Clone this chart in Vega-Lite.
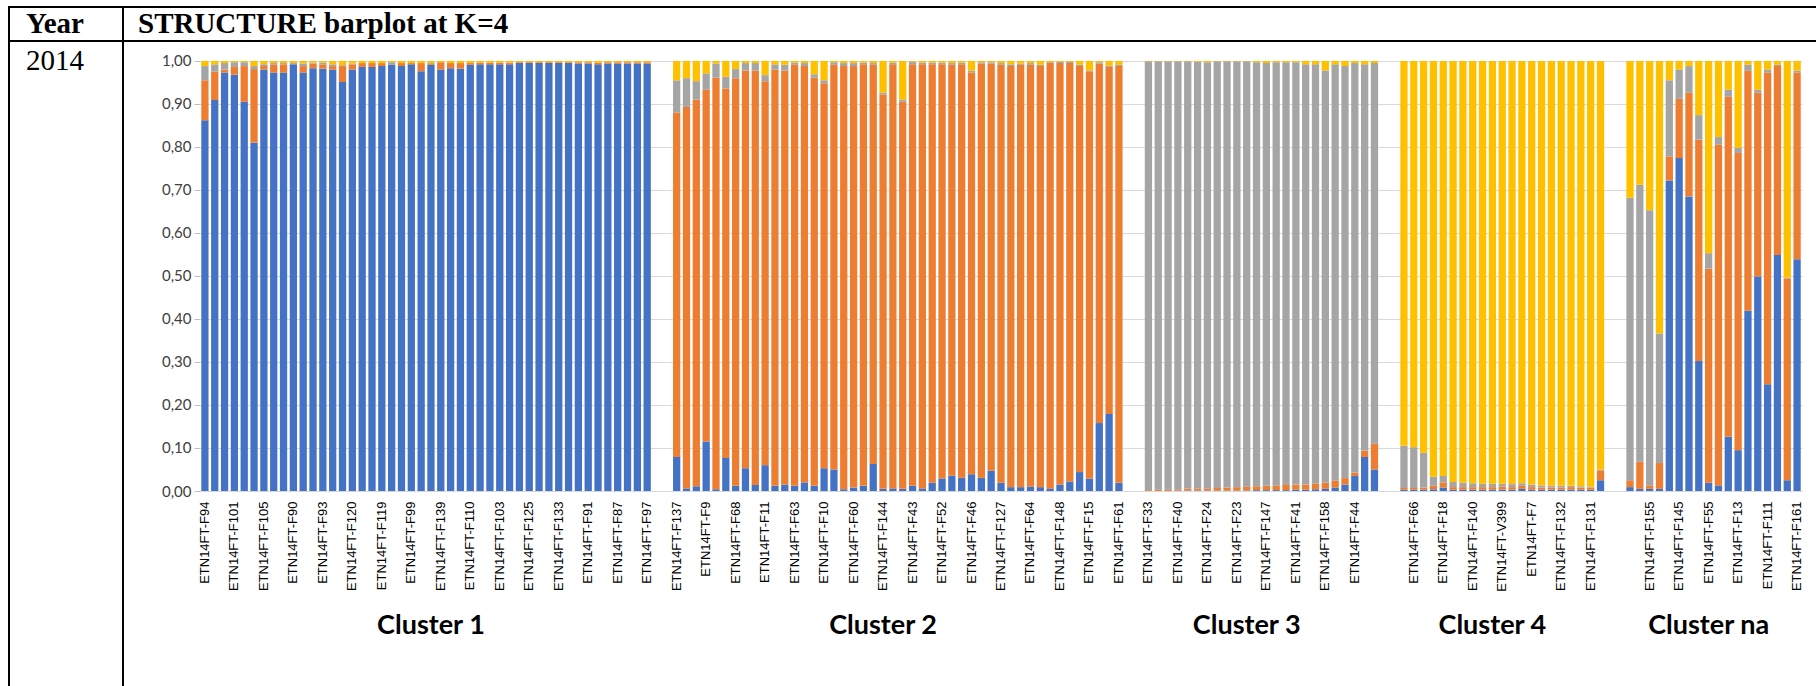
{
  "$schema": "https://vega.github.io/schema/vega-lite/v6.json",
  "padding": {"left": 7, "top": 6, "right": 0, "bottom": 0},
  "background": "white",
  "config": {"view": {"stroke": "#000000", "strokeWidth": 2}, "font": "Liberation Sans"},
  "datasets": {
    "bars": [
      {"id":"ETN14FT-F94","K1":0.862,"K2":0.093,"K3":0.033,"K4":0.012},
      {"id":"s001","K1":0.909,"K2":0.066,"K3":0.017,"K4":0.008},
      {"id":"s002","K1":0.973,"K2":0.007,"K3":0.015,"K4":0.005},
      {"id":"ETN14FT-F101","K1":0.968,"K2":0.018,"K3":0.011,"K4":0.003},
      {"id":"s004","K1":0.905,"K2":0.083,"K3":0.009,"K4":0.003},
      {"id":"s005","K1":0.810,"K2":0.171,"K3":0.007,"K4":0.012},
      {"id":"ETN14FT-F105","K1":0.980,"K2":0.008,"K3":0.004,"K4":0.008},
      {"id":"s007","K1":0.973,"K2":0.018,"K3":0.004,"K4":0.005},
      {"id":"s008","K1":0.973,"K2":0.019,"K3":0.003,"K4":0.005},
      {"id":"ETN14FT-F90","K1":0.992,"K2":0.000,"K3":0.003,"K4":0.005},
      {"id":"s010","K1":0.973,"K2":0.015,"K3":0.006,"K4":0.006},
      {"id":"s011","K1":0.983,"K2":0.011,"K3":0.002,"K4":0.004},
      {"id":"ETN14FT-F93","K1":0.982,"K2":0.010,"K3":0.004,"K4":0.004},
      {"id":"s013","K1":0.980,"K2":0.008,"K3":0.004,"K4":0.008},
      {"id":"s014","K1":0.951,"K2":0.037,"K3":0.002,"K4":0.010},
      {"id":"ETN14FT-F120","K1":0.980,"K2":0.012,"K3":0.002,"K4":0.006},
      {"id":"s016","K1":0.986,"K2":0.009,"K3":0.000,"K4":0.005},
      {"id":"s017","K1":0.986,"K2":0.009,"K3":0.000,"K4":0.005},
      {"id":"ETN14FT-F119","K1":0.988,"K2":0.007,"K3":0.000,"K4":0.005},
      {"id":"s019","K1":0.991,"K2":0.000,"K3":0.006,"K4":0.003},
      {"id":"s020","K1":0.988,"K2":0.007,"K3":0.000,"K4":0.005},
      {"id":"ETN14FT-F99","K1":0.992,"K2":0.003,"K3":0.000,"K4":0.005},
      {"id":"s022","K1":0.976,"K2":0.019,"K3":0.000,"K4":0.005},
      {"id":"s023","K1":0.991,"K2":0.002,"K3":0.002,"K4":0.005},
      {"id":"ETN14FT-F139","K1":0.980,"K2":0.017,"K3":0.000,"K4":0.003},
      {"id":"s025","K1":0.983,"K2":0.012,"K3":0.000,"K4":0.005},
      {"id":"s026","K1":0.982,"K2":0.013,"K3":0.000,"K4":0.005},
      {"id":"ETN14FT-F110","K1":0.991,"K2":0.004,"K3":0.000,"K4":0.005},
      {"id":"s028","K1":0.992,"K2":0.004,"K3":0.000,"K4":0.004},
      {"id":"s029","K1":0.992,"K2":0.004,"K3":0.000,"K4":0.004},
      {"id":"ETN14FT-F103","K1":0.992,"K2":0.004,"K3":0.000,"K4":0.004},
      {"id":"s031","K1":0.992,"K2":0.003,"K3":0.001,"K4":0.004},
      {"id":"s032","K1":0.995,"K2":0.002,"K3":0.000,"K4":0.003},
      {"id":"ETN14FT-F125","K1":0.995,"K2":0.002,"K3":0.000,"K4":0.003},
      {"id":"s034","K1":0.995,"K2":0.002,"K3":0.000,"K4":0.003},
      {"id":"s035","K1":0.995,"K2":0.002,"K3":0.000,"K4":0.003},
      {"id":"ETN14FT-F133","K1":0.995,"K2":0.002,"K3":0.000,"K4":0.003},
      {"id":"s037","K1":0.995,"K2":0.002,"K3":0.000,"K4":0.003},
      {"id":"s038","K1":0.994,"K2":0.003,"K3":0.000,"K4":0.003},
      {"id":"ETN14FT-F91","K1":0.994,"K2":0.003,"K3":0.000,"K4":0.003},
      {"id":"s040","K1":0.992,"K2":0.004,"K3":0.000,"K4":0.004},
      {"id":"s041","K1":0.994,"K2":0.003,"K3":0.000,"K4":0.003},
      {"id":"ETN14FT-F87","K1":0.994,"K2":0.003,"K3":0.000,"K4":0.003},
      {"id":"s043","K1":0.994,"K2":0.003,"K3":0.000,"K4":0.003},
      {"id":"s044","K1":0.994,"K2":0.003,"K3":0.000,"K4":0.003},
      {"id":"ETN14FT-F97","K1":0.994,"K2":0.003,"K3":0.000,"K4":0.003},
      {"id":"gap046","K1":0,"K2":0,"K3":0,"K4":0},
      {"id":"gap047","K1":0,"K2":0,"K3":0,"K4":0},
      {"id":"ETN14FT-F137","K1":0.079,"K2":0.801,"K3":0.075,"K4":0.045},
      {"id":"s049","K1":0.006,"K2":0.887,"K3":0.067,"K4":0.040},
      {"id":"s050","K1":0.011,"K2":0.899,"K3":0.043,"K4":0.047},
      {"id":"ETN14FT-F9","K1":0.115,"K2":0.818,"K3":0.038,"K4":0.029},
      {"id":"s052","K1":0.004,"K2":0.957,"K3":0.033,"K4":0.006},
      {"id":"s053","K1":0.077,"K2":0.859,"K3":0.027,"K4":0.037},
      {"id":"ETN14FT-F68","K1":0.012,"K2":0.948,"K3":0.021,"K4":0.019},
      {"id":"s055","K1":0.053,"K2":0.925,"K3":0.017,"K4":0.005},
      {"id":"s056","K1":0.014,"K2":0.964,"K3":0.017,"K4":0.005},
      {"id":"ETN14FT-F11","K1":0.060,"K2":0.893,"K3":0.014,"K4":0.033},
      {"id":"s058","K1":0.012,"K2":0.968,"K3":0.012,"K4":0.008},
      {"id":"s059","K1":0.015,"K2":0.963,"K3":0.013,"K4":0.009},
      {"id":"ETN14FT-F63","K1":0.012,"K2":0.979,"K3":0.005,"K4":0.004},
      {"id":"s061","K1":0.020,"K2":0.968,"K3":0.007,"K4":0.005},
      {"id":"s062","K1":0.012,"K2":0.949,"K3":0.008,"K4":0.031},
      {"id":"ETN14FT-F10","K1":0.053,"K2":0.895,"K3":0.007,"K4":0.045},
      {"id":"s064","K1":0.050,"K2":0.941,"K3":0.006,"K4":0.003},
      {"id":"s065","K1":0.004,"K2":0.984,"K3":0.007,"K4":0.005},
      {"id":"ETN14FT-F60","K1":0.008,"K2":0.980,"K3":0.007,"K4":0.005},
      {"id":"s067","K1":0.012,"K2":0.980,"K3":0.004,"K4":0.004},
      {"id":"s068","K1":0.063,"K2":0.928,"K3":0.004,"K4":0.005},
      {"id":"ETN14FT-F144","K1":0.005,"K2":0.917,"K3":0.004,"K4":0.074},
      {"id":"s070","K1":0.006,"K2":0.986,"K3":0.004,"K4":0.004},
      {"id":"s071","K1":0.005,"K2":0.900,"K3":0.005,"K4":0.090},
      {"id":"ETN14FT-F43","K1":0.012,"K2":0.980,"K3":0.006,"K4":0.002},
      {"id":"s073","K1":0.006,"K2":0.986,"K3":0.004,"K4":0.004},
      {"id":"s074","K1":0.019,"K2":0.973,"K3":0.004,"K4":0.004},
      {"id":"ETN14FT-F52","K1":0.029,"K2":0.963,"K3":0.004,"K4":0.004},
      {"id":"s076","K1":0.036,"K2":0.955,"K3":0.004,"K4":0.005},
      {"id":"s077","K1":0.031,"K2":0.961,"K3":0.004,"K4":0.004},
      {"id":"ETN14FT-F46","K1":0.039,"K2":0.934,"K3":0.004,"K4":0.023},
      {"id":"s079","K1":0.031,"K2":0.963,"K3":0.003,"K4":0.003},
      {"id":"s080","K1":0.047,"K2":0.947,"K3":0.003,"K4":0.003},
      {"id":"ETN14FT-F127","K1":0.019,"K2":0.972,"K3":0.004,"K4":0.005},
      {"id":"s082","K1":0.009,"K2":0.979,"K3":0.004,"K4":0.008},
      {"id":"s083","K1":0.009,"K2":0.982,"K3":0.003,"K4":0.006},
      {"id":"ETN14FT-F64","K1":0.010,"K2":0.981,"K3":0.004,"K4":0.005},
      {"id":"s085","K1":0.009,"K2":0.979,"K3":0.003,"K4":0.009},
      {"id":"s086","K1":0.006,"K2":0.989,"K3":0.002,"K4":0.003},
      {"id":"ETN14FT-F148","K1":0.015,"K2":0.980,"K3":0.003,"K4":0.002},
      {"id":"s088","K1":0.022,"K2":0.973,"K3":0.003,"K4":0.002},
      {"id":"s089","K1":0.044,"K2":0.944,"K3":0.003,"K4":0.009},
      {"id":"ETN14FT-F15","K1":0.029,"K2":0.947,"K3":0.002,"K4":0.022},
      {"id":"s091","K1":0.158,"K2":0.836,"K3":0.003,"K4":0.003},
      {"id":"s092","K1":0.179,"K2":0.807,"K3":0.003,"K4":0.011},
      {"id":"ETN14FT-F61","K1":0.019,"K2":0.969,"K3":0.003,"K4":0.009},
      {"id":"gap094","K1":0,"K2":0,"K3":0,"K4":0},
      {"id":"gap095","K1":0,"K2":0,"K3":0,"K4":0},
      {"id":"ETN14FT-F33","K1":0.000,"K2":0.002,"K3":0.997,"K4":0.001},
      {"id":"s097","K1":0.000,"K2":0.003,"K3":0.996,"K4":0.001},
      {"id":"s098","K1":0.000,"K2":0.003,"K3":0.996,"K4":0.001},
      {"id":"ETN14FT-F40","K1":0.001,"K2":0.003,"K3":0.995,"K4":0.001},
      {"id":"s100","K1":0.001,"K2":0.004,"K3":0.994,"K4":0.001},
      {"id":"s101","K1":0.001,"K2":0.004,"K3":0.993,"K4":0.002},
      {"id":"ETN14FT-F24","K1":0.001,"K2":0.005,"K3":0.991,"K4":0.003},
      {"id":"s103","K1":0.001,"K2":0.006,"K3":0.992,"K4":0.001},
      {"id":"s104","K1":0.001,"K2":0.007,"K3":0.991,"K4":0.001},
      {"id":"ETN14FT-F23","K1":0.001,"K2":0.008,"K3":0.990,"K4":0.001},
      {"id":"s106","K1":0.001,"K2":0.009,"K3":0.989,"K4":0.001},
      {"id":"s107","K1":0.002,"K2":0.009,"K3":0.986,"K4":0.003},
      {"id":"ETN14FT-F147","K1":0.002,"K2":0.010,"K3":0.983,"K4":0.005},
      {"id":"s109","K1":0.002,"K2":0.011,"K3":0.984,"K4":0.003},
      {"id":"s110","K1":0.002,"K2":0.012,"K3":0.983,"K4":0.003},
      {"id":"ETN14FT-F41","K1":0.003,"K2":0.012,"K3":0.982,"K4":0.003},
      {"id":"s112","K1":0.003,"K2":0.012,"K3":0.977,"K4":0.008},
      {"id":"s113","K1":0.004,"K2":0.013,"K3":0.975,"K4":0.008},
      {"id":"ETN14FT-F158","K1":0.005,"K2":0.014,"K3":0.959,"K4":0.022},
      {"id":"s115","K1":0.008,"K2":0.016,"K3":0.968,"K4":0.008},
      {"id":"s116","K1":0.015,"K2":0.015,"K3":0.958,"K4":0.012},
      {"id":"ETN14FT-F44","K1":0.035,"K2":0.008,"K3":0.952,"K4":0.005},
      {"id":"s118","K1":0.079,"K2":0.015,"K3":0.898,"K4":0.008},
      {"id":"s119","K1":0.050,"K2":0.060,"K3":0.885,"K4":0.005},
      {"id":"gap120","K1":0,"K2":0,"K3":0,"K4":0},
      {"id":"gap121","K1":0,"K2":0,"K3":0,"K4":0},
      {"id":"s122","K1":0.003,"K2":0.004,"K3":0.098,"K4":0.895},
      {"id":"ETN14FT-F66","K1":0.003,"K2":0.004,"K3":0.095,"K4":0.898},
      {"id":"s124","K1":0.003,"K2":0.005,"K3":0.081,"K4":0.911},
      {"id":"s125","K1":0.004,"K2":0.008,"K3":0.021,"K4":0.967},
      {"id":"ETN14FT-F18","K1":0.008,"K2":0.012,"K3":0.015,"K4":0.965},
      {"id":"s127","K1":0.003,"K2":0.006,"K3":0.012,"K4":0.979},
      {"id":"s128","K1":0.003,"K2":0.006,"K3":0.010,"K4":0.981},
      {"id":"ETN14FT-F140","K1":0.003,"K2":0.006,"K3":0.009,"K4":0.982},
      {"id":"s130","K1":0.003,"K2":0.006,"K3":0.008,"K4":0.983},
      {"id":"s131","K1":0.003,"K2":0.006,"K3":0.008,"K4":0.983},
      {"id":"ETN14FT-V399","K1":0.003,"K2":0.007,"K3":0.007,"K4":0.983},
      {"id":"s133","K1":0.003,"K2":0.006,"K3":0.007,"K4":0.984},
      {"id":"s134","K1":0.005,"K2":0.007,"K3":0.006,"K4":0.982},
      {"id":"ETN14FT-F7","K1":0.003,"K2":0.006,"K3":0.006,"K4":0.985},
      {"id":"s136","K1":0.003,"K2":0.005,"K3":0.005,"K4":0.987},
      {"id":"s137","K1":0.003,"K2":0.005,"K3":0.004,"K4":0.988},
      {"id":"ETN14FT-F132","K1":0.003,"K2":0.005,"K3":0.004,"K4":0.988},
      {"id":"s139","K1":0.003,"K2":0.006,"K3":0.003,"K4":0.988},
      {"id":"s140","K1":0.003,"K2":0.005,"K3":0.003,"K4":0.989},
      {"id":"ETN14FT-F131","K1":0.003,"K2":0.005,"K3":0.002,"K4":0.990},
      {"id":"s142","K1":0.025,"K2":0.023,"K3":0.002,"K4":0.950},
      {"id":"gap143","K1":0,"K2":0,"K3":0,"K4":0},
      {"id":"gap144","K1":0,"K2":0,"K3":0,"K4":0},
      {"id":"s145","K1":0.009,"K2":0.016,"K3":0.657,"K4":0.318},
      {"id":"s146","K1":0.005,"K2":0.063,"K3":0.644,"K4":0.288},
      {"id":"ETN14FT-F155","K1":0.005,"K2":0.008,"K3":0.640,"K4":0.347},
      {"id":"s148","K1":0.005,"K2":0.060,"K3":0.301,"K4":0.634},
      {"id":"s149","K1":0.722,"K2":0.056,"K3":0.177,"K4":0.045},
      {"id":"ETN14FT-F145","K1":0.774,"K2":0.138,"K3":0.068,"K4":0.020},
      {"id":"s151","K1":0.685,"K2":0.241,"K3":0.062,"K4":0.012},
      {"id":"s152","K1":0.302,"K2":0.515,"K3":0.057,"K4":0.126},
      {"id":"ETN14FT-F55","K1":0.019,"K2":0.498,"K3":0.036,"K4":0.447},
      {"id":"s154","K1":0.013,"K2":0.792,"K3":0.018,"K4":0.177},
      {"id":"s155","K1":0.126,"K2":0.791,"K3":0.016,"K4":0.067},
      {"id":"ETN14FT-F13","K1":0.095,"K2":0.691,"K3":0.012,"K4":0.202},
      {"id":"s157","K1":0.419,"K2":0.558,"K3":0.014,"K4":0.009},
      {"id":"s158","K1":0.499,"K2":0.427,"K3":0.007,"K4":0.067},
      {"id":"ETN14FT-F111","K1":0.248,"K2":0.725,"K3":0.007,"K4":0.020},
      {"id":"s160","K1":0.549,"K2":0.439,"K3":0.003,"K4":0.009},
      {"id":"s161","K1":0.025,"K2":0.469,"K3":0.002,"K4":0.504},
      {"id":"ETN14FT-F161","K1":0.539,"K2":0.434,"K3":0.004,"K4":0.023}
    ],
    "clusters": [
      {"at": "s023", "name": "Cluster 1"},
      {"at": "ETN14FT-F144", "name": "Cluster 2"},
      {"at": "s106", "name": "Cluster 3"},
      {"at": "s131", "name": "Cluster 4"},
      {"at": "ETN14FT-F55", "name": "Cluster na"}
    ]
  },
  "spacing": -2,
  "bounds": "full",
  "vconcat": [
    {
      "spacing": 0,
      "bounds": "flush",
      "hconcat": [
        {
          "width": 114, "height": 34,
          "data": {"values": [{"t": "Year"}]},
          "mark": {"type": "text", "align": "left", "baseline": "middle", "font": "Liberation Serif", "fontWeight": "bold", "fontSize": 29, "dx": 17, "color": "#000000"},
          "encoding": {
            "text": {"field": "t"},
            "x": {"datum": 0, "type": "quantitative", "scale": {"domain": [0, 1]}, "axis": null}
          }
        },
        {
          "width": 1693, "height": 34,
          "view": {"stroke": null},
          "data": {"values": [{"t": "STRUCTURE barplot at K=4"}]},
          "layer": [
            {
              "mark": {"type": "text", "align": "left", "baseline": "middle", "font": "Liberation Serif", "fontWeight": "bold", "fontSize": 29, "dx": 15, "color": "#000000"},
              "encoding": {
                "text": {"field": "t"},
                "x": {"datum": 0, "type": "quantitative", "scale": {"domain": [0, 1]}, "axis": null}
              }
            },
            {
              "mark": {"type": "rule", "color": "#000000", "strokeWidth": 2},
              "encoding": {"y": {"datum": 0, "type": "quantitative", "scale": {"domain": [0, 1]}, "axis": null}}
            },
            {
              "mark": {"type": "rule", "color": "#000000", "strokeWidth": 2},
              "encoding": {"y": {"datum": 1, "type": "quantitative", "scale": {"domain": [0, 1]}, "axis": null}}
            }
          ]
        }
      ]
    },
    {
      "spacing": 77,
      "bounds": "flush",
      "hconcat": [
        {
          "width": 114, "height": 644,
          "view": {"stroke": null},
          "data": {"values": [{"t": "2014"}]},
          "layer": [
            {
              "mark": {"type": "text", "align": "left", "baseline": "top", "font": "Liberation Serif", "fontSize": 29, "dx": 17, "dy": 5, "color": "#000000"},
              "encoding": {
                "text": {"field": "t"},
                "x": {"datum": 0, "type": "quantitative", "scale": {"domain": [0, 1]}, "axis": null},
                "y": {"datum": 1, "type": "quantitative", "scale": {"domain": [0, 1]}, "axis": null}
              }
            },
            {
              "mark": {"type": "rule", "color": "#000000", "strokeWidth": 2, "strokeCap": "square"},
              "encoding": {"x": {"datum": 0, "type": "quantitative", "scale": {"domain": [0, 1]}, "axis": null}}
            },
            {
              "mark": {"type": "rule", "color": "#000000", "strokeWidth": 2, "strokeCap": "square"},
              "encoding": {"x": {"datum": 1, "type": "quantitative", "scale": {"domain": [0, 1]}, "axis": null}}
            }
          ]
        },
        {
          "spacing": 100,
          "bounds": "flush",
          "vconcat": [
            {
              "width": 1602, "height": 449,
              "view": {"stroke": null},
              "data": {"name": "bars"},
              "transform": [{"fold": ["K1", "K2", "K3", "K4"], "as": ["k", "v"]}],
              "mark": {"type": "bar"},
              "encoding": {
                "x": {
                  "field": "id", "type": "nominal", "sort": null,
                  "scale": {"paddingInner": 0.26, "paddingOuter": 0.13},
                  "axis": {
                    "title": null,
                    "values": ["ETN14FT-F94","ETN14FT-F101","ETN14FT-F105","ETN14FT-F90","ETN14FT-F93","ETN14FT-F120","ETN14FT-F119","ETN14FT-F99","ETN14FT-F139","ETN14FT-F110","ETN14FT-F103","ETN14FT-F125","ETN14FT-F133","ETN14FT-F91","ETN14FT-F87","ETN14FT-F97","ETN14FT-F137","ETN14FT-F9","ETN14FT-F68","ETN14FT-F11","ETN14FT-F63","ETN14FT-F10","ETN14FT-F60","ETN14FT-F144","ETN14FT-F43","ETN14FT-F52","ETN14FT-F46","ETN14FT-F127","ETN14FT-F64","ETN14FT-F148","ETN14FT-F15","ETN14FT-F61","ETN14FT-F33","ETN14FT-F40","ETN14FT-F24","ETN14FT-F23","ETN14FT-F147","ETN14FT-F41","ETN14FT-F158","ETN14FT-F44","ETN14FT-F66","ETN14FT-F18","ETN14FT-F140","ETN14FT-V399","ETN14FT-F7","ETN14FT-F132","ETN14FT-F131","ETN14FT-F155","ETN14FT-F145","ETN14FT-F55","ETN14FT-F13","ETN14FT-F111","ETN14FT-F161"],
                    "labelAngle": -90,
                    "ticks": false,
                    "tickSize": 0,
                    "domainColor": "#D9D9D9",
                    "labelFont": "Liberation Sans",
                    "labelFontSize": 13,
                    "labelColor": "#000000",
                    "labelPadding": 10,
                    "labelOverlap": false,
                    "labelBound": false
                  }
                },
                "y": {
                  "field": "v", "type": "quantitative", "stack": "zero",
                  "scale": {"domain": [0, 1.044], "nice": false},
                  "axis": {
                    "title": null,
                    "values": [0, 0.1, 0.2, 0.3, 0.4, 0.5, 0.6, 0.7, 0.8, 0.9, 1.0],
                    "labelExpr": "replace(format(datum.value, '.2f'), '.', ',')",
                    "domain": false,
                    "grid": true,
                    "gridColor": "#D9D9D9",
                    "tickColor": "#BFBFBF",
                    "tickSize": 6,
                    "labelPadding": 3,
                    "labelFont": "Lato",
                    "labelFontSize": 15,
                    "labelColor": "#404040"
                  }
                },
                "color": {
                  "field": "k", "type": "nominal",
                  "scale": {"domain": ["K1", "K2", "K3", "K4"], "range": ["#4472C4", "#ED7D31", "#A5A5A5", "#FFC000"]},
                  "legend": null
                },
                "order": {"field": "k", "type": "ordinal"}
              }
            },
            {
              "width": 1602, "height": 70,
              "view": {"stroke": null},
              "data": {"name": "bars"},
              "transform": [
                {"lookup": "id", "from": {"data": {"name": "clusters"}, "key": "at", "fields": ["name"]}}
              ],
              "mark": {"type": "text", "font": "Lato", "fontWeight": "bold", "fontSize": 27, "color": "#000000", "baseline": "middle", "align": "center"},
              "encoding": {
                "x": {
                  "field": "id", "type": "nominal", "sort": null, "bandPosition": 1.176,
                  "scale": {"paddingInner": 0.26, "paddingOuter": 0.13},
                  "axis": null
                },
                "text": {"condition": {"test": "isValid(datum.name)", "field": "name"}, "value": ""}
              }
            }
          ]
        }
      ]
    }
  ]
}
